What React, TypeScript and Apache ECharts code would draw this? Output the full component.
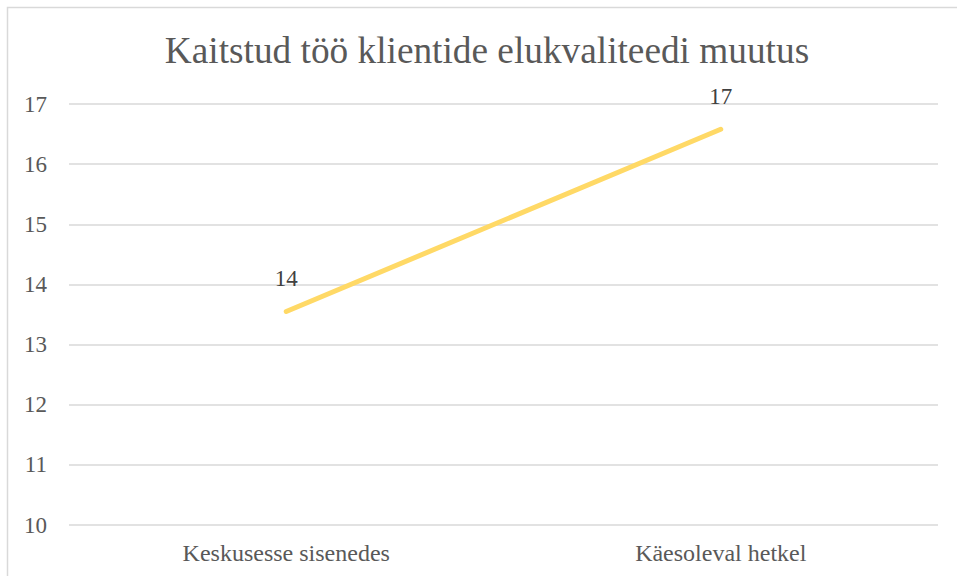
import React, { useEffect, useRef } from "react";
import * as echarts from "echarts";

const title = "Kaitstud töö klientide elukvaliteedi muutus";
const categories = ["Keskusesse sisenedes", "Käesoleval hetkel"];
const values = [13.55, 16.58];
const yMin = 10;
const yMax = 17;

export default function App() {
  const ref = useRef<HTMLDivElement>(null);
  useEffect(() => {
    if (!ref.current) return;
    const chart = echarts.init(ref.current, null, { renderer: "svg" });
    const font = "'Times New Roman', 'Liberation Serif', serif";
    chart.setOption({
      animation: false,
      backgroundColor: "#ffffff",
      title: {
        text: title,
        left: 482,
        textAlign: "center",
        top: 27,
        textStyle: { fontFamily: font, fontSize: 37.3, fontWeight: "normal", color: "#595959" },
      },
      graphic: [
        {
          type: "rect",
          shape: { x: 7.5, y: 7.5, width: 1000, height: 1000 },
          style: { fill: "none", stroke: "#d9d9d9", lineWidth: 1.5 },
          silent: true,
        },
      ],
      grid: { left: 69, right: 19, top: 104, bottom: 51, containLabel: false },
      xAxis: {
        type: "category",
        data: categories,
        boundaryGap: true,
        axisLine: { show: false },
        axisTick: { show: false },
        axisLabel: { fontFamily: font, fontSize: 24, color: "#595959", margin: 16 },
      },
      yAxis: {
        type: "value",
        min: yMin,
        max: yMax,
        interval: 1,
        axisLine: { show: false },
        axisTick: { show: false },
        axisLabel: { fontFamily: font, fontSize: 23, color: "#595959", margin: 22 },
        splitLine: { lineStyle: { color: "#d9d9d9", width: 1.5 } },
      },
      series: [
        {
          type: "line",
          data: values,
          symbol: "circle",
          symbolSize: 2,
          showSymbol: true,
          itemStyle: { color: "#ffd966" },
          lineStyle: { color: "#ffd966", width: 5, cap: "round" },
          label: {
            show: true,
            position: "top",
            distance: 20,
            fontFamily: font,
            fontSize: 23,
            color: "#404040",
            formatter: (p: any) => String(Math.round(p.value)),
          },
        },
      ],
    });
    return () => chart.dispose();
  }, []);
  return (
    <div
      ref={ref}
      style={{ position: "fixed", left: 0, top: 0, width: 957, height: 576 }}
    />
  );
}
